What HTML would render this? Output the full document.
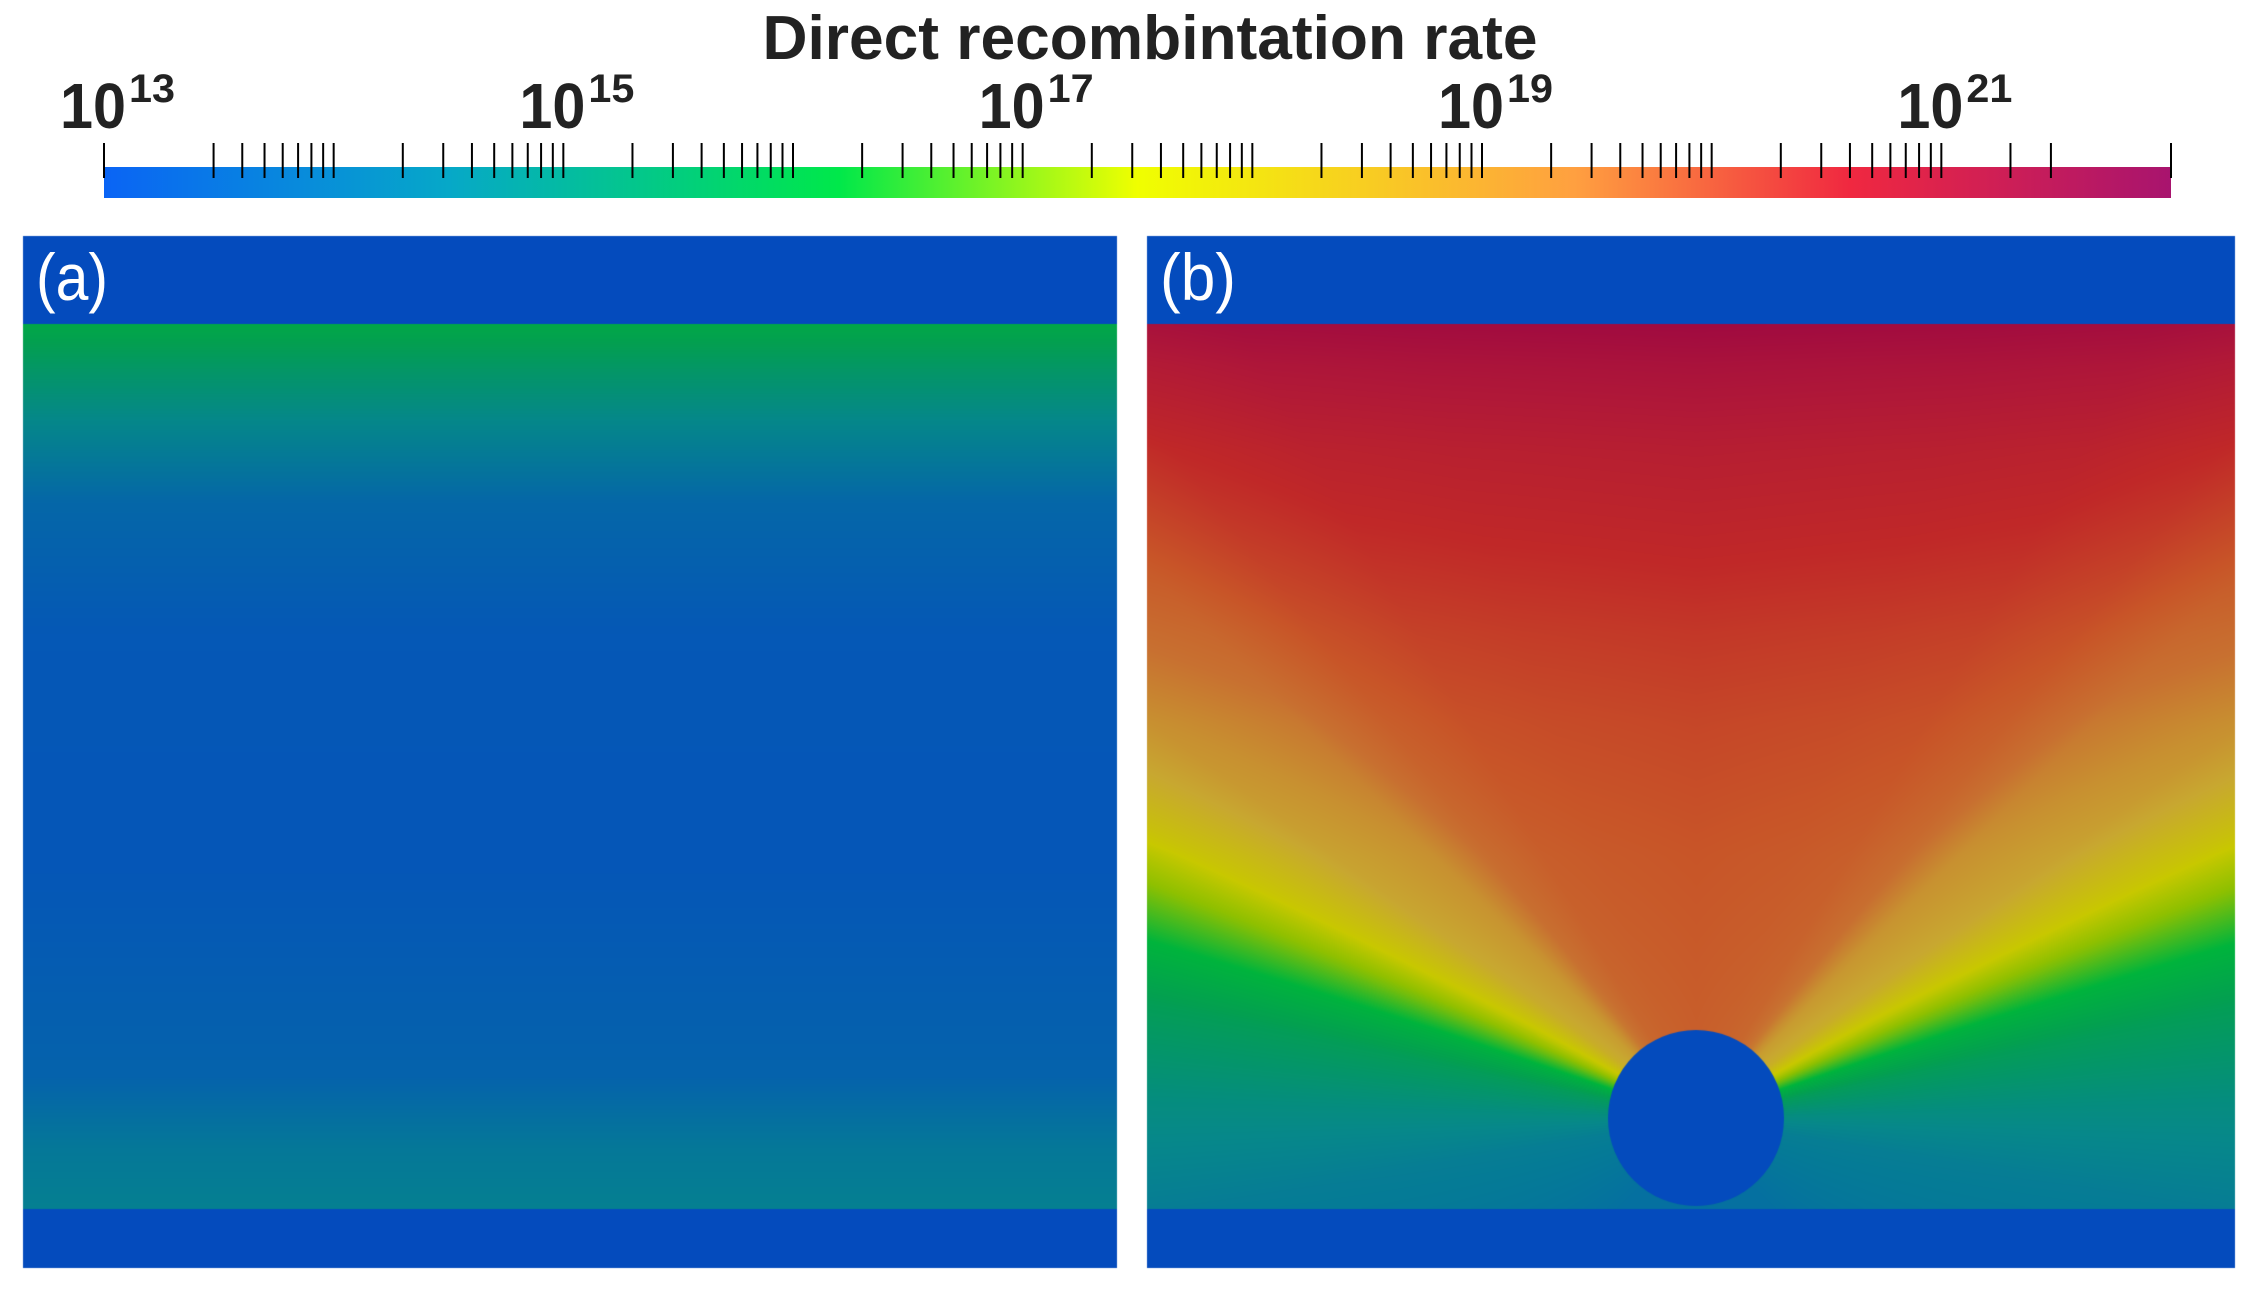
<!DOCTYPE html>
<html><head><meta charset="utf-8"><style>
html,body{margin:0;padding:0;background:#fff;width:2256px;height:1292px;overflow:hidden}
#wrap{position:relative;width:2256px;height:1292px}
canvas,svg{position:absolute;left:0;top:0}
</style></head><body>
<div id="wrap">
<canvas id="cv" width="2256" height="1292"></canvas>
<svg id="sv" width="2256" height="1292" viewBox="0 0 2256 1292">
  <defs><linearGradient id="cbg" x1="0" x2="1" y1="0" y2="0"></linearGradient></defs>
  <text x="1150" y="59" font-family="'Liberation Sans Narrow','Liberation Sans',sans-serif" font-weight="bold" font-size="62" fill="#222" text-anchor="middle" textLength="775" lengthAdjust="spacingAndGlyphs">Direct recombintation rate</text>
  <rect id="cbar" x="104" y="167" width="2067" height="31" fill="url(#cbg)"/>
  <g id="ticks"></g>
  <g id="labels"></g>
  <text x="36" y="300" font-family="'Liberation Sans',sans-serif" font-size="66" fill="#fff" textLength="72" lengthAdjust="spacingAndGlyphs">(a)</text>
  <text x="1160" y="300" font-family="'Liberation Sans',sans-serif" font-size="66" fill="#fff" textLength="76" lengthAdjust="spacingAndGlyphs">(b)</text>
</svg>
</div>
<script>
// colorbar data
const cbMin = 13, cbMax = 22;
const labelExps = [13, 15, 17, 19, 21];
const cbStops = [13, 14.5, 16.2, 17.5, 19.4, 20.6, 22];
const cbColors = ['#0a64f5', '#06a8c8', '#00e84a', '#f0ff00', '#ffa040', '#f02840', '#a8146e'];
// panel colormap
const pmVals = [14.0, 14.6, 15.2, 16.0, 16.5, 17.2, 17.6, 18.2, 18.6, 19.0, 19.6, 20.5, 21.3, 22.0];
const pmCols = ['#0656b8', '#0570a0', '#06888a', '#03a050', '#00b43c', '#90c000', '#c8c800', '#c8a830', '#c89030', '#c87030', '#c85528', '#c02828', '#b01838', '#a00a40'];
// panel (a): vertical profile (fraction of field height, value)
const aFrac = [0, 0.05, 0.2, 0.35, 0.6, 0.85, 0.93, 1];
const aVals = [16.2, 15.7, 14.4, 14.05, 14.0, 14.3, 14.8, 15.0];
// panel (b): centre column profile (image y, value) and angular drop (deg, value)
const bY = [325, 364, 450, 542, 632, 721, 855, 1030, 1209];
const bV = [22.0, 21.6, 21.0, 20.6, 20.2, 19.9, 19.6, 19.4, 19.3];
const bAng = [0, 20, 30, 38, 45, 54, 62, 67, 72, 78, 88, 100, 140, 180];
const bK = [0, 0.1, 0.2, 0.5, 1.0, 1.3, 1.9, 2.4, 3.0, 3.5, 4.0, 4.4, 4.7, 4.7];

const X0 = 104, W = 2067;
const xs = v => X0 + (v - cbMin) / (cbMax - cbMin) * W;
const NS = 'http://www.w3.org/2000/svg';
const grad = document.getElementById('cbg');
cbStops.forEach((s, i) => {
  const st = document.createElementNS(NS, 'stop');
  st.setAttribute('offset', (s - cbMin) / (cbMax - cbMin));
  st.setAttribute('stop-color', cbColors[i]);
  grad.appendChild(st);
});
const tg = document.getElementById('ticks');
function addTick(v) {
  const ln = document.createElementNS(NS, 'line');
  
  
  const x = xs(v);
  ln.setAttribute('x1', x); ln.setAttribute('x2', x);
  ln.setAttribute('y1', 143); ln.setAttribute('y2', 178);
  ln.setAttribute('stroke', '#000'); ln.setAttribute('stroke-width', 2);
  tg.appendChild(ln);
}
for (let d = cbMin; d < cbMax; d++) {
  for (let m = 1; m <= 9; m++) {
    if (d === cbMin && m === 2) continue;
    if (d === cbMax - 1 && m > 3) break;
    addTick(d + Math.log10(m));
  }
}
addTick(cbMax);
const lg = document.getElementById('labels');
labelExps.forEach(e => {
  const x = xs(e);
  const t = document.createElementNS(NS, 'text');
  
  
  t.setAttribute('x', x - 44); t.setAttribute('y', 128);
  t.setAttribute('font-family', "'Liberation Sans Narrow','Liberation Sans',sans-serif");
  t.setAttribute('font-weight', 'bold'); t.setAttribute('font-size', 64); t.setAttribute('fill', '#222');
  t.setAttribute('textLength', 66); t.setAttribute('lengthAdjust', 'spacingAndGlyphs');
  t.textContent = '10';
  lg.appendChild(t);
  const s = document.createElementNS(NS, 'text');
  
  
  s.setAttribute('x', x + 25); s.setAttribute('y', 102);
  s.setAttribute('font-family', "'Liberation Sans Narrow','Liberation Sans',sans-serif");
  s.setAttribute('font-weight', 'bold'); s.setAttribute('font-size', 40); s.setAttribute('fill', '#222');
  s.setAttribute('textLength', 46); s.setAttribute('lengthAdjust', 'spacingAndGlyphs');
  s.textContent = String(e);
  lg.appendChild(s);
});

// heatmaps
function hex(c) { return [parseInt(c.substr(1, 2), 16), parseInt(c.substr(3, 2), 16), parseInt(c.substr(5, 2), 16)]; }
const pmRGB = pmCols.map(hex);
function interp(xsA, ysA, x) {
  if (x <= xsA[0]) return ysA[0];
  for (let i = 1; i < xsA.length; i++) if (x <= xsA[i]) { const t = (x - xsA[i - 1]) / (xsA[i] - xsA[i - 1]); return ysA[i - 1] + t * (ysA[i] - ysA[i - 1]); }
  return ysA[ysA.length - 1];
}
function cmap(v) {
  if (v <= pmVals[0]) return pmRGB[0];
  for (let i = 1; i < pmVals.length; i++) if (v <= pmVals[i]) {
    const t = (v - pmVals[i - 1]) / (pmVals[i] - pmVals[i - 1]), a = pmRGB[i - 1], b = pmRGB[i];
    return [a[0] + t * (b[0] - a[0]), a[1] + t * (b[1] - a[1]), a[2] + t * (b[2] - a[2])];
  }
  return pmRGB[pmRGB.length - 1];
}
const cv = document.getElementById('cv'), ctx = cv.getContext('2d');
const BLUE = '#044bbd';
const A = { x: 23, w: 1094, top: 236, f0: 324, f1: 1209, bot: 1268 };
const B = { x: 1147, w: 1088, top: 236, f0: 324, f1: 1209, bot: 1268 };
[A, B].forEach(p => { ctx.fillStyle = BLUE; ctx.fillRect(p.x, p.top, p.w, p.bot - p.top); });
(function () {
  const h = A.f1 - A.f0;
  for (let y = 0; y < h; y++) {
    const c = cmap(interp(aFrac, aVals, y / h));
    ctx.fillStyle = `rgb(${c[0] | 0},${c[1] | 0},${c[2] | 0})`;
    ctx.fillRect(A.x, A.f0 + y, A.w, 1);
  }
})();
(function () {
  const cx = 1696, cy = 1118;
  const img = ctx.createImageData(B.w, B.f1 - B.f0);
  const d = img.data;
  for (let j = 0; j < B.f1 - B.f0; j++) {
    const Y = B.f0 + j, vc = interp(bY, bV, Y);
    for (let i = 0; i < B.w; i++) {
      const X = B.x + i, dx = X - cx, dy = cy - Y;
      const ang = Math.abs(Math.atan2(dx, dy)) * 180 / Math.PI;
      const c = cmap(vc - interp(bAng, bK, ang));
      const k = (j * B.w + i) * 4;
      d[k] = c[0]; d[k + 1] = c[1]; d[k + 2] = c[2]; d[k + 3] = 255;
    }
  }
  ctx.putImageData(img, B.x, B.f0);
  ctx.fillStyle = BLUE;
  ctx.beginPath(); ctx.arc(cx, cy, 88, 0, Math.PI * 2); ctx.fill();
})();
</script>
</body></html>
